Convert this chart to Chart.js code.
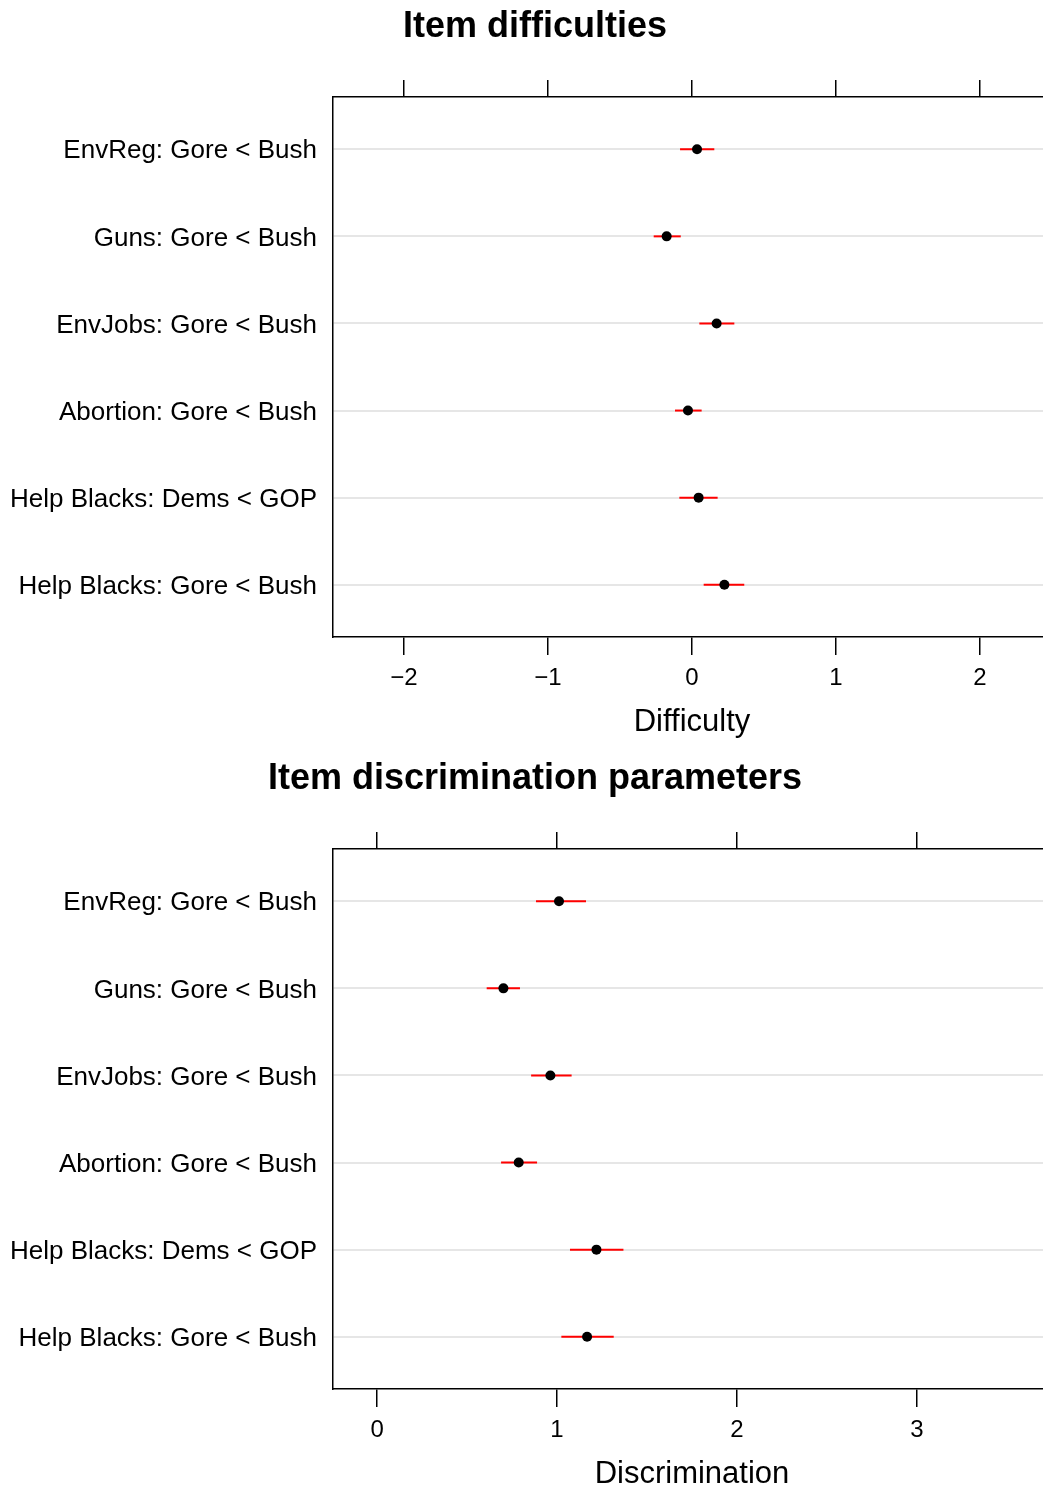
<!DOCTYPE html>
<html>
<head>
<meta charset="utf-8">
<title>Item parameters</title>
<script src="https://cdn.jsdelivr.net/npm/chart.js@4.4.1/dist/chart.umd.min.js"></script>
<style>
  html, body { margin: 0; padding: 0; background: #fff; overflow: hidden; }
  .panel { position: absolute; left: 0; width: 1070px; height: 752px; }
  #panelTop { top: 0; }
  #panelBottom { top: 752px; }
  .panel h2 {
    position: absolute; top: 3px; left: 0; width: 1070px; margin: 0;
    text-align: center; color: #000;
    font: bold 36px/44px "Liberation Sans", Arial, Helvetica, sans-serif;
  }
  .panel canvas { position: absolute; top: 0; left: 0; }
</style>
</head>
<body>
<div class="panel" id="panelTop">
  <canvas id="diffChart" width="1070" height="752"></canvas>
  <h2>Item difficulties</h2>
</div>
<div class="panel" id="panelBottom">
  <canvas id="discChart" width="1070" height="752"></canvas>
  <h2>Item discrimination parameters</h2>
</div>
<script>
// Item labels, top to bottom
const items = [
  'EnvReg: Gore < Bush',
  'Guns: Gore < Bush',
  'EnvJobs: Gore < Bush',
  'Abortion: Gore < Bush',
  'Help Blacks: Dems < GOP',
  'Help Blacks: Gore < Bush'
];

// Difficulty estimates with interval ends
const difficulty = [0.035, -0.176, 0.171, -0.028, 0.046, 0.225];
const diffLow    = [-0.083, -0.266, 0.051, -0.118, -0.088, 0.081];
const diffHigh   = [0.155, -0.078, 0.294, 0.067, 0.178, 0.363];
const diffTicks  = [-2, -1, 0, 1, 2];

// Discrimination estimates with interval ends
const discrim  = [1.011, 0.702, 0.963, 0.787, 1.219, 1.167];
const discLow  = [0.883, 0.609, 0.856, 0.689, 1.072, 1.024];
const discHigh = [1.161, 0.794, 1.081, 0.889, 1.369, 1.315];
const discTicks = [0, 1, 2, 3];

Chart.defaults.font.family = '"Liberation Sans", Arial, Helvetica, sans-serif';
Chart.defaults.color = '#000';

const fmt = v => (v < 0 ? '\u2212' + Math.abs(v) : String(v));

function dotplot(canvasId, xTitle, est, lo, hi, ticks, xMin, xMax) {
  // one red segment per item for the interval
  const bars = est.map((_, i) => ({
    type: 'scatter',
    data: [{ x: lo[i], y: i + 1 }, { x: hi[i], y: i + 1 }],
    showLine: true,
    borderColor: '#ff0000',
    borderWidth: 2,
    pointRadius: 0,
    order: 2
  }));
  const dots = {
    type: 'scatter',
    data: est.map((v, i) => ({ x: v, y: i + 1 })),
    pointRadius: 5,
    pointBackgroundColor: '#000',
    pointBorderWidth: 0,
    order: 1
  };

  const setTicks = vals => axis => { axis.ticks = vals.map(v => ({ value: v })); };

  return new Chart(document.getElementById(canvasId), {
    type: 'scatter',
    data: { datasets: [...bars, dots] },
    options: {
      responsive: false,
      devicePixelRatio: 1,
      animation: false,
      // top space holds the panel heading
      layout: { autoPadding: false, padding: { left: 0, right: 19, top: 80, bottom: 0 } },
      plugins: {
        legend: { display: false },
        tooltip: { enabled: false }
      },
      scales: {
        x: {
          type: 'linear',
          position: 'bottom',
          min: xMin,
          max: xMax,
          afterBuildTicks: setTicks(ticks),
          afterFit: s => { s.height = 115; },
          grid: { drawOnChartArea: false, drawTicks: true, tickLength: 18, color: '#000', lineWidth: 1.5 },
          border: { display: true, color: '#000', width: 1.5 },
          ticks: { font: { size: 24 }, padding: 9, maxRotation: 0, callback: v => fmt(v) },
          title: { display: true, text: xTitle, font: { size: 31 }, padding: { top: 0, bottom: 10.5 } }
        },
        xTop: {
          type: 'linear',
          position: 'top',
          min: xMin,
          max: xMax,
          afterBuildTicks: setTicks(ticks),
          afterFit: s => { s.height = 17; },
          grid: { drawOnChartArea: false, drawTicks: true, tickLength: 17, color: '#000', lineWidth: 1.5 },
          border: { display: true, color: '#000', width: 1.5 },
          ticks: { display: false }
        },
        y: {
          type: 'linear',
          position: 'left',
          reverse: true,
          min: 0.4,
          max: 6.6,
          afterBuildTicks: setTicks(items.map((_, i) => i + 1)),
          afterFit: s => { s.width = 333; },
          grid: { drawTicks: false, color: '#e6e6e6', lineWidth: 2 },
          border: { display: true, color: '#000', width: 1.5 },
          ticks: { font: { size: 26 }, padding: 16, labelOffset: 2, callback: v => items[v - 1] }
        }
      }
    }
  });
}

dotplot('diffChart', 'Difficulty',
  difficulty, diffLow, diffHigh, diffTicks, -2.493, 2.493);
dotplot('discChart', 'Discrimination',
  discrim, discLow, discHigh, discTicks, -0.245, 3.745);
</script>
</body>
</html>
